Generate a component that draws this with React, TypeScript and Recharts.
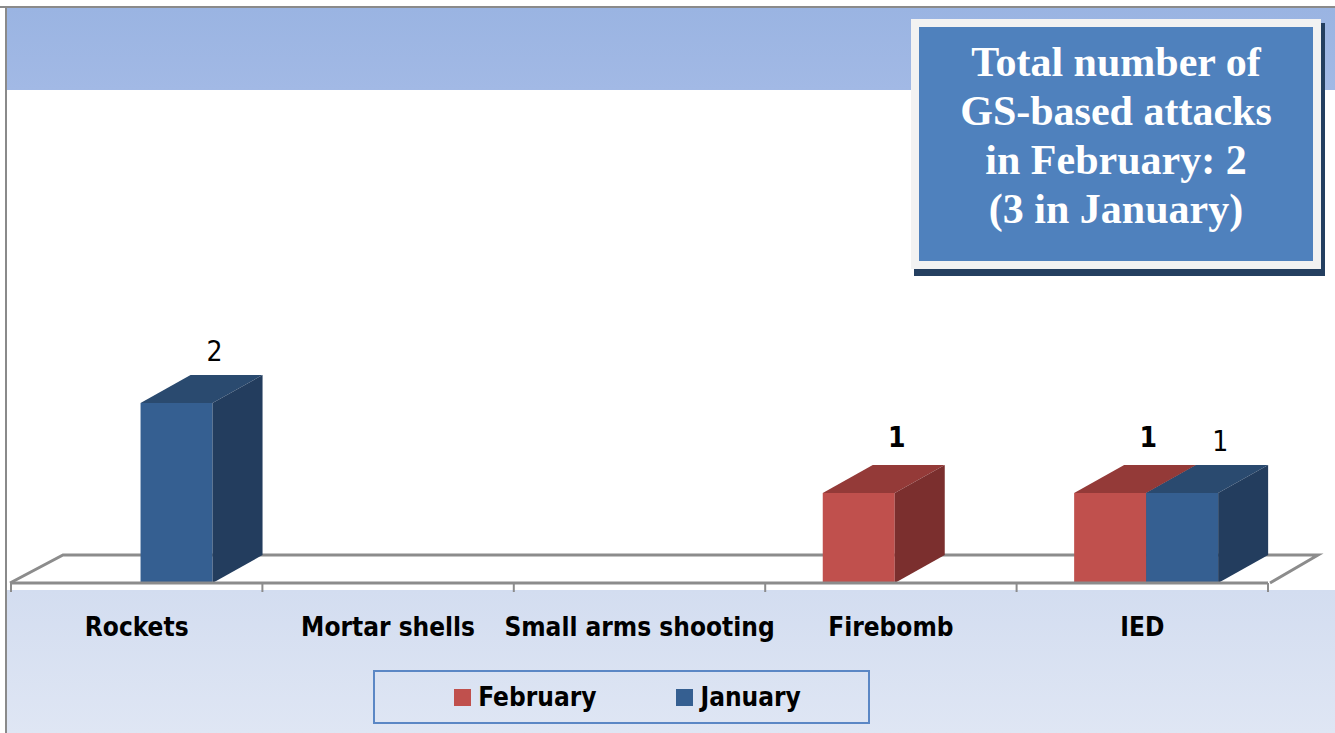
import { BarChart, Bar, XAxis, YAxis, Legend, LabelList } from "recharts";

// categories and monthly counts
const categories = ["Rockets", "Mortar shells", "Small arms shooting", "Firebomb", "IED"];
const february = [0, 0, 0, 1, 1];
const january = [2, 0, 0, 0, 1];

const data = categories.map((name, i) => ({ name, february: february[i], january: january[i] }));

const W = 1335;
const H = 733;
const AXIS_H = 30;
const M = { top: 133, right: 67, bottom: 150 - AXIS_H, left: 11 };
const DX = 50; // 3d depth
const DY = 28;
const SHIFT = 4; // boxes sit a bit right of the band, like the excel 3d view
const FONT = "'Liberation Sans Narrow', 'DejaVu Sans Condensed', 'Liberation Sans', sans-serif";

const COLORS = {
  february: { front: "#c0504d", top: "#943a38", side: "#7b2f2e" },
  january: { front: "#355f91", top: "#2a4a6f", side: "#233d5e" },
};

const Box3D = (c: { front: string; top: string; side: string }) => (p: any) => {
  const { y, width, height } = p;
  if (!height || height <= 0) return <g />;
  const x = p.x + SHIFT;
  const b = y + height;
  const r = x + width;
  return (
    <g>
      <rect x={x} y={y} width={width} height={height} fill={c.front} />
      <polygon points={`${x},${y} ${x + DX},${y - DY} ${r + DX},${y - DY} ${r},${y}`} fill={c.top} />
      <polygon points={`${r},${y} ${r + DX},${y - DY} ${r + DX},${b - DY} ${r},${b}`} fill={c.side} />
    </g>
  );
};

const valueLabel = (bold: boolean, lift: number) => (p: any) => {
  const { x, y, width, value } = p;
  if (!value) return null;
  return (
    <text
      x={x + SHIFT + width / 2 + 38}
      y={y - lift}
      textAnchor="middle"
      dominantBaseline="central"
      fontFamily={FONT}
      fontSize={28}
      fontWeight={bold ? 700 : 400}
      fill="#000"
    >
      {value}
    </text>
  );
};

const CatTick = (p: any) => (
  <text
    x={p.x}
    y={p.y + 53}
    textAnchor="middle"
    fontFamily={FONT}
    fontSize={26}
    fontWeight={700}
    fill="#000"
  >
    {p.payload.value}
  </text>
);

function LegendBox({ payload }: any) {
  return (
    <div
      style={{
        width: 497,
        height: 54,
        border: "2px solid #5b87c5",
        display: "flex",
        alignItems: "center",
        justifyContent: "center",
        paddingLeft: 12,
        boxSizing: "border-box",
        fontFamily: FONT,
        fontWeight: 700,
        fontSize: 26,
        color: "#000",
      }}
    >
      {(payload || []).map((e: any, i: number) => (
        <div key={e.value} style={{ display: "flex", alignItems: "center", marginLeft: i ? 80 : 0 }}>
          <span style={{ width: 17, height: 17, background: e.color, marginRight: 7, display: "inline-block" }} />
          <span>{e.value}</span>
        </div>
      ))}
    </div>
  );
}

function Backdrop() {
  const plotW = W - M.left - M.right;
  const base = H - M.bottom - AXIS_H;
  const band = plotW / categories.length;
  const ticks = Array.from({ length: categories.length + 1 }, (_, i) => M.left + i * band);
  return (
    <svg width={W} height={H} style={{ position: "absolute", left: 0, top: 0 }}>
      <defs>
        <linearGradient id="topband" x1="0" y1="0" x2="0" y2="1">
          <stop offset="0" stopColor="#9ab4e2" />
          <stop offset="1" stopColor="#a2b9e5" />
        </linearGradient>
        <linearGradient id="botband" x1="0" y1="0" x2="0" y2="1">
          <stop offset="0" stopColor="#d3ddf0" />
          <stop offset="1" stopColor="#dfe6f4" />
        </linearGradient>
      </defs>
      <rect x={0} y={0} width={W} height={H} fill="#fff" />
      <rect x={7} y={8} width={W - 7} height={82} fill="url(#topband)" />
      <rect x={7} y={590} width={W - 7} height={H - 590} fill="url(#botband)" />
      <line x1={0} y1={7} x2={W} y2={7} stroke="#8a8a8a" strokeWidth={2} />
      <line x1={6} y1={7} x2={6} y2={H} stroke="#8a8a8a" strokeWidth={2} />
      <polyline
        points={`${M.left - 1},${base} ${M.left + 52},${base - DY} ${W - 17},${base - DY} ${M.left + plotW + 2},${base}`}
        fill="#fff"
        stroke="#8c8c8c"
        strokeWidth={3}
      />
      {ticks.map((t) => (
        <line key={t} x1={t} y1={base} x2={t} y2={base + 9} stroke="#8c8c8c" strokeWidth={2} />
      ))}
    </svg>
  );
}

function TitleBox() {
  return (
    <div style={{ position: "absolute", left: 911, top: 19 }}>
      <div style={{ position: "absolute", left: 3, top: 4, width: 411, height: 253, background: "#243f60" }} />
      <div
        style={{
          position: "absolute",
          left: 0,
          top: 0,
          width: 410,
          height: 250,
          background: "#f2f2f2",
          boxSizing: "border-box",
          padding: 8,
        }}
      >
        <div
          style={{
            width: "100%",
            height: "100%",
            background: "#4f81bd",
            color: "#fff",
            fontFamily: "'Liberation Serif', 'DejaVu Serif', serif",
            fontWeight: 700,
            fontSize: 42,
            lineHeight: "49px",
            textAlign: "center",
            paddingTop: 11,
            boxSizing: "border-box",
          }}
        >
          Total number of
          <br />
          GS-based attacks
          <br />
          in February: 2
          <br />
          (3 in January)
        </div>
      </div>
    </div>
  );
}

export default function App() {
  return (
    <div style={{ position: "absolute", left: 0, top: 0, width: W, height: H, overflow: "hidden" }}>
      <Backdrop />
      <div style={{ position: "absolute", left: 0, top: 0 }}>
        <BarChart width={W} height={H} data={data} margin={M} barCategoryGap="21.3%" barGap={0}>
          <XAxis
            dataKey="name"
            height={AXIS_H}
            axisLine={{ stroke: "#8c8c8c", strokeWidth: 3 }}
            tickLine={false}
            tickSize={0}
            tickMargin={0}
            tick={CatTick}
            interval={0}
          />
          <YAxis hide domain={[0, 5]} />
          <Legend
            layout="horizontal"
            verticalAlign="middle"
            align="center"
            content={LegendBox}
            wrapperStyle={{ position: "absolute", left: 373, top: 670, width: 497, height: 54 }}
          />
          <Bar dataKey="february" name="February" fill={COLORS.february.front} shape={Box3D(COLORS.february)} isAnimationActive={false}>
            <LabelList dataKey="february" content={valueLabel(true, 56)} />
          </Bar>
          <Bar dataKey="january" name="January" fill={COLORS.january.front} shape={Box3D(COLORS.january)} isAnimationActive={false}>
            <LabelList dataKey="january" content={valueLabel(false, 52)} />
          </Bar>
        </BarChart>
      </div>
      <TitleBox />
    </div>
  );
}
